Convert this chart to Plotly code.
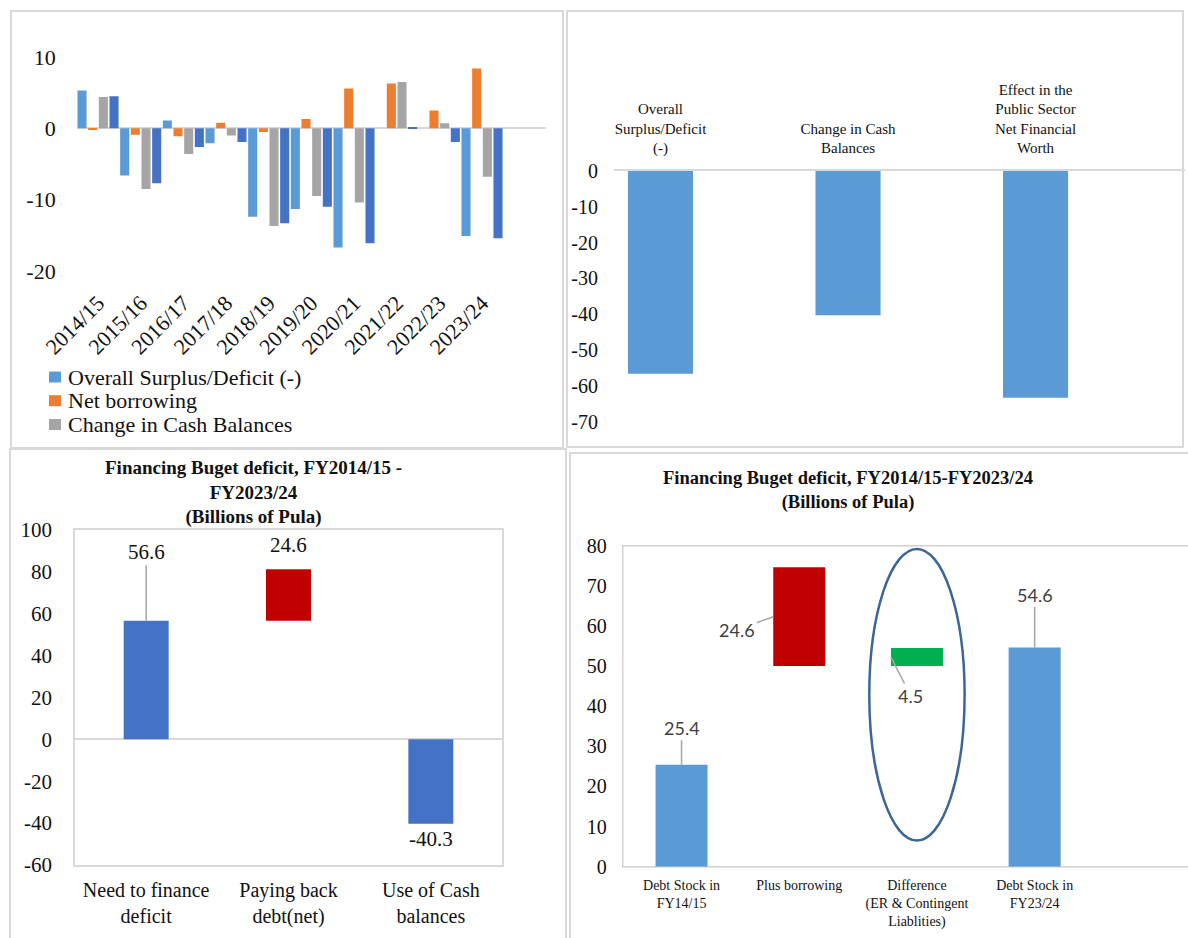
import plotly.graph_objects as go

# ---------------- data ----------------
years = ["2014/15", "2015/16", "2016/17", "2017/18", "2018/19",
         "2019/20", "2020/21", "2021/22", "2022/23", "2023/24"]
overall_balance = [5.3, -6.6, 1.1, -2.1, -12.4, -11.3, -16.7, 0.0, 0.0, -15.1]
net_borrowing = [-0.1, -0.9, -1.1, 0.8, -0.5, 1.3, 5.6, 6.3, 2.5, 8.4]
cash_change = [4.4, -8.5, -3.6, -1.0, -13.7, -9.5, -10.4, 6.5, 0.7, -6.8]
net_worth_effect = [4.5, -7.7, -2.6, -1.9, -13.3, -11.0, -16.1, 0.2, -1.9, -15.4]

total_cats = ["Overall<br>Surplus/Deficit<br>(-)", "Change in Cash<br>Balances",
              "Effect in the<br>Public Sector<br>Net Financial<br>Worth"]
total_values = [-56.6, -40.3, -63.3]

fin_cats = ["Need to finance<br>deficit", "Paying back<br>debt(net)", "Use of Cash<br>balances"]
fin_values = [56.6, 24.6, -40.3]
fin_base = [0.0, 56.6, 0.0]

debt_cats = ["Debt Stock in<br>FY14/15", "Plus borrowing",
             "Difference<br>(ER & Contingent<br>Liablities)", "Debt Stock in<br>FY23/24"]
debt_values = [25.4, 24.6, 4.5, 54.6]
debt_base = [0.0, 50.0, 50.0, 0.0]

# ---------------- helpers ----------------
W, H = 1188, 938
def fx(p):
    return p / W
def fy(p):
    return 1 - p / H

SERIF = "Liberation Serif, Times New Roman, serif"
SANS = "Lato, Open Sans, sans-serif"
GRID = "#d9d9d9"
TXT = "#111111"

def ticks(vals):
    return dict(tickvals=vals, ticktext=[str(v) for v in vals])

fig = go.Figure()

# Panel 1: grouped bars
series = [("Overall Surplus/Deficit (-)", overall_balance, "#5B9BD5"),
          ("Net borrowing", net_borrowing, "#ED7D31"),
          ("Change in Cash Balances", cash_change, "#A5A5A5"),
          ("Effect in the Public Sector Net Financial Worth", net_worth_effect, "#4472C4")]
for name, vals, col in series:
    fig.add_trace(go.Bar(x=list(range(len(years))), y=vals, name=name,
                         marker=dict(color=col, line=dict(width=0)),
                         xaxis="x", yaxis="y", showlegend=False))

# Panel 2
fig.add_trace(go.Bar(x=list(range(len(total_cats))), y=total_values, width=0.347,
                     marker=dict(color="#5B9BD5", line=dict(width=0)),
                     xaxis="x2", yaxis="y2", showlegend=False))

# Panel 3
fig.add_trace(go.Bar(x=list(range(len(fin_cats))), y=fin_values, base=fin_base, width=0.316,
                     marker=dict(color=["#4472C4", "#C00000", "#4472C4"], line=dict(width=0)),
                     xaxis="x3", yaxis="y3", showlegend=False))

# Panel 4
fig.add_trace(go.Bar(x=list(range(len(debt_cats))), y=debt_values, base=debt_base, width=0.442,
                     marker=dict(color=["#5B9BD5", "#C00000", "#00B050", "#5B9BD5"], line=dict(width=0)),
                     xaxis="x4", yaxis="y4", showlegend=False))

ax_common = dict(showgrid=False, zeroline=False, ticks="", fixedrange=True, automargin=False)

layout = dict(
    width=W, height=H, margin=dict(l=0, r=0, t=0, b=0, autoexpand=False),
    paper_bgcolor="white", plot_bgcolor="rgba(0,0,0,0)",
    barmode="group", bargap=0, bargroupgap=0.15, showlegend=False,
    font=dict(family=SERIF, color=TXT),
    xaxis=dict(domain=[fx(76.7), fx(546)], anchor="y", range=[-0.5, 10.5],
               tickvals=list(range(len(years))), ticktext=years, tickangle=-45,
               tickfont=dict(size=22, family=SERIF, color=TXT), ticklabelstandoff=14, **ax_common),
    yaxis=dict(domain=[fy(271), fy(57)], anchor="x", range=[-20, 10], **ticks([-20, -10, 0, 10]),
               tickfont=dict(size=22, family=SERIF, color=TXT), ticklabelstandoff=20,
               showgrid=False, ticks="", fixedrange=True, automargin=False,
               zeroline=True, zerolinecolor=GRID, zerolinewidth=2),
    xaxis2=dict(domain=[fx(614), fx(1185)], anchor="y2", range=[-0.248, 2.797], side="top",
                tickvals=list(range(len(total_cats))), ticktext=total_cats,
                tickfont=dict(size=15, family=SERIF, color=TXT), ticklabelstandoff=10,
                showline=True, linecolor=GRID, linewidth=2, **ax_common),
    yaxis2=dict(domain=[fy(421.7), fy(171)], anchor="x2", range=[-70, 0],
                **ticks([0, -10, -20, -30, -40, -50, -60, -70]),
                tickfont=dict(size=20, family=SERIF, color=TXT), ticklabelstandoff=15, **ax_common),
    xaxis3=dict(domain=[fx(75), fx(502)], anchor="y3", range=[-0.5, 2.5],
                tickvals=list(range(len(fin_cats))), ticktext=fin_cats,
                tickfont=dict(size=20, family=SERIF, color=TXT), ticklabelstandoff=6,
                showline=True, mirror=True, linecolor=GRID, linewidth=1.5, **ax_common),
    yaxis3=dict(domain=[fy(865), fy(530)], anchor="x3", range=[-60, 100],
                **ticks([-60, -40, -20, 0, 20, 40, 60, 80, 100]),
                tickfont=dict(size=21, family=SERIF, color=TXT), ticklabelstandoff=17,
                showline=True, mirror=True, linecolor=GRID, linewidth=1.5,
                showgrid=False, ticks="", fixedrange=True, automargin=False,
                zeroline=True, zerolinecolor=GRID, zerolinewidth=2),
    xaxis4=dict(domain=[fx(622.7), 1.0], anchor="y4", range=[-0.5, -0.5 + (W - 622.7) / 117.7],
                tickvals=list(range(len(debt_cats))), ticktext=debt_cats,
                tickfont=dict(size=14, family=SERIF, color=TXT), ticklabelstandoff=8, **ax_common),
    yaxis4=dict(domain=[fy(866.7), fy(545.7)], anchor="x4", range=[0, 80],
                **ticks([0, 10, 20, 30, 40, 50, 60, 70, 80]),
                tickfont=dict(size=20, family=SERIF, color=TXT), ticklabelstandoff=15, **ax_common),
)
fig.update_layout(**layout)

shapes = []
# panel borders
for (x0, y0, x1, y1) in [(11, 11, 563, 448), (567, 11, 1183, 447),
                         (10, 449, 566, 945), (570, 453, 1195, 945)]:
    shapes.append(dict(type="rect", xref="paper", yref="paper",
                       x0=fx(x0), x1=fx(x1), y0=fy(y1), y1=fy(y0),
                       line=dict(color=GRID, width=2), layer="below"))
# panel 4 plot-area frame
shapes.append(dict(type="rect", xref="paper", yref="paper",
                   x0=fx(622.7), x1=fx(1195), y0=fy(866.7), y1=fy(545.7),
                   line=dict(color="#d0d0d0", width=1.5), layer="below"))
# ellipse around "Difference"
shapes.append(dict(type="circle", xref="x4", yref="y4", x0=2 - 0.405, x1=2 + 0.405,
                   y0=6.5, y1=79.2, line=dict(color="#3A6796", width=2.5)))

# manual legend for panel 1
legend_y = [377, 400.7, 424.5]
annotations = []
for (name, vals, col), ly in zip(series[:3], legend_y):
    shapes.append(dict(type="rect", xref="paper", yref="paper",
                       x0=fx(49), x1=fx(61), y0=fy(ly + 5.5), y1=fy(ly - 5.5),
                       fillcolor=col, line=dict(width=0)))
    annotations.append(dict(xref="paper", yref="paper", x=fx(66), y=fy(ly), text=name,
                            xanchor="left", yanchor="middle", showarrow=False,
                            font=dict(size=22, family=SERIF, color=TXT)))

# titles
annotations.append(dict(xref="paper", yref="paper", x=fx(253), y=fy(492),
                        text="<b>Financing Buget deficit, FY2014/15 -<br>FY2023/24<br>(Billions of Pula)</b>",
                        showarrow=False, xanchor="center", yanchor="middle",
                        font=dict(size=19, family=SERIF, color=TXT)))
annotations.append(dict(xref="paper", yref="paper", x=fx(847.7), y=fy(490.5),
                        text="<b>Financing Buget deficit, FY2014/15-FY2023/24<br>(Billions of Pula)</b>",
                        showarrow=False, xanchor="center", yanchor="middle",
                        font=dict(size=18.5, family=SERIF, color=TXT)))

# panel 3 data labels
lf3 = dict(size=21, family=SERIF, color=TXT)
annotations.append(dict(xref="x3", yref="y3", x=0, y=fin_base[0] + fin_values[0],
                        text=f"{fin_values[0]:.1f}", showarrow=True, arrowhead=0, ax=0, ay=-69,
                        arrowcolor="#a6a6a6", arrowwidth=1.5, standoff=0, font=lf3))
annotations.append(dict(xref="x3", yref="y3", x=1, y=fin_base[1] + fin_values[1],
                        text=f"{fin_values[1]:.1f}", showarrow=False, yshift=24, font=lf3))
annotations.append(dict(xref="x3", yref="y3", x=2, y=fin_base[2] + fin_values[2],
                        text=f"{fin_values[2]:.1f}", showarrow=False, yshift=-15, font=lf3))

# panel 4 data labels
lf4 = dict(size=18, family=SANS, color="#404040")
half = 0.442 / 2
arrow4 = dict(showarrow=True, arrowhead=0, arrowcolor="#a6a6a6", arrowwidth=1.5, standoff=0, font=lf4)
annotations.append(dict(xref="x4", yref="y4", x=0, y=debt_base[0] + debt_values[0],
                        text=f"{debt_values[0]:.1f}", ax=0, ay=-37, **arrow4))
annotations.append(dict(xref="x4", yref="y4", x=1 - half, y=debt_base[1] + debt_values[1] / 2,
                        text=f"{debt_values[1]:.1f}", ax=-36, ay=13, **arrow4))
annotations.append(dict(xref="x4", yref="y4", x=2 - half, y=debt_base[2] + debt_values[2] / 2,
                        text=f"{debt_values[2]:.1f}", ax=20, ay=39, **arrow4))
annotations.append(dict(xref="x4", yref="y4", x=3, y=debt_base[3] + debt_values[3],
                        text=f"{debt_values[3]:.1f}", ax=0, ay=-53, **arrow4))

fig.update_layout(shapes=shapes, annotations=annotations)

fig.write_html("out.html", config={"displayModeBar": False},
               post_script="document.body.style.margin='0';document.body.style.overflow='hidden';")
